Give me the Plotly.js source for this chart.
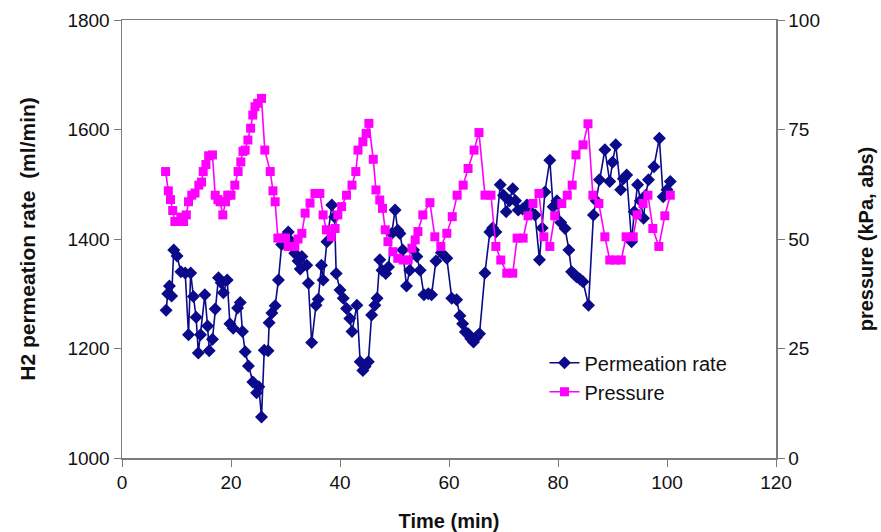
<!DOCTYPE html>
<html>
<head>
<meta charset="utf-8">
<script src="https://cdn.plot.ly/plotly-3.0.1.min.js"></script>
<style>html,body{margin:0;padding:0;background:#fff;}#chart{width:881px;height:532px;}</style>
</head>
<body>
<div id="chart"></div>
<script>
// Permeation rate (ml/min) vs time (min)
const permTime = [8.1,8.4,8.7,9.1,9.5,10.1,10.8,11.6,12.2,12.6,13.1,13.6,14.0,14.4,15.2,15.7,16.0,16.6,17.1,17.7,18.2,18.6,19.3,19.8,20.4,21.2,21.7,22.1,22.6,23.2,24.0,24.7,25.1,25.6,26.1,26.8,27.0,27.5,28.1,28.7,29.3,30.0,30.5,31.1,31.7,32.3,32.7,33.0,33.9,34.2,34.8,35.6,36.0,36.6,36.9,37.6,38.5,39.0,39.3,40.0,40.6,41.2,41.8,42.2,43.1,43.7,44.2,44.6,45.2,45.8,46.4,46.8,47.3,47.7,48.4,48.9,49.5,50.1,50.6,51.0,51.5,52.2,52.8,53.5,54.1,54.7,55.4,56.2,56.8,57.6,58.6,59.6,60.5,61.4,62.0,62.5,63.0,63.5,64.0,64.5,65.0,65.6,66.6,67.5,68.0,68.6,69.4,70.0,70.5,71.1,71.7,72.2,72.7,73.5,74.3,75.0,75.8,76.6,77.1,77.6,78.5,79.1,79.8,80.5,81.3,82.0,82.5,83.0,83.4,84.0,84.6,85.6,86.5,87.0,87.6,88.6,89.5,90.0,90.6,91.5,92.0,92.6,93.5,94.0,94.6,95.1,95.7,96.1,96.6,97.6,98.6,99.3,100.0,100.6];
const permRate = [1270,1300,1314,1296,1380,1369,1340,1338,1225,1338,1295,1257,1192,1225,1298,1241,1196,1217,1272,1329,1320,1302,1325,1245,1237,1274,1284,1231,1194,1168,1139,1119,1130,1075,1197,1196,1247,1265,1278,1325,1390,1405,1413,1395,1374,1360,1345,1368,1352,1319,1211,1279,1290,1352,1325,1395,1462,1440,1337,1307,1292,1273,1255,1231,1279,1176,1160,1167,1176,1261,1279,1292,1362,1343,1337,1349,1410,1453,1416,1410,1380,1314,1343,1380,1368,1343,1298,1300,1298,1360,1375,1365,1292,1289,1260,1245,1230,1227,1218,1212,1220,1227,1338,1413,1420,1413,1499,1480,1450,1470,1492,1470,1453,1455,1462,1450,1444,1362,1420,1486,1544,1459,1470,1430,1419,1380,1340,1335,1331,1327,1322,1279,1444,1470,1508,1563,1505,1540,1572,1490,1510,1517,1395,1450,1499,1470,1438,1480,1508,1532,1584,1477,1490,1505];

// Pressure (kPa, abs) vs time (min)
const presTime = [8.0,8.5,8.9,9.3,9.7,10.2,10.8,11.3,11.8,12.2,12.8,13.4,14.1,14.6,14.9,15.4,15.9,16.6,17.1,17.6,18.0,18.5,19.0,19.4,20.0,20.7,21.3,21.8,22.2,22.6,23.1,23.6,24.0,24.4,24.9,25.6,26.2,27.2,27.7,28.1,28.6,29.3,30.0,30.5,31.1,31.7,32.3,33.0,33.6,34.5,35.4,36.3,36.9,37.5,38.4,39.1,39.6,40.3,41.2,42.2,42.9,43.3,44.2,44.8,45.3,46.1,46.6,47.3,47.8,48.3,48.8,49.7,50.6,51.6,52.5,53.2,53.8,54.3,55.2,56.5,57.4,58.5,59.6,60.6,61.5,62.6,63.5,64.6,65.5,66.6,67.7,68.6,69.5,70.6,71.7,72.5,73.6,74.5,75.4,76.5,77.4,78.5,79.4,80.7,81.7,82.6,83.3,84.6,85.5,86.4,87.5,88.6,89.5,90.5,91.6,92.5,93.8,94.5,95.6,96.5,97.4,98.5,99.6,100.6];
const presVal = [65.4,61.0,59.0,56.5,54.0,54.0,55.0,54.0,55.5,58.5,60.0,60.5,62.3,63.0,65.4,67.0,69.0,69.2,60.0,59.0,58.5,55.5,58.5,60.0,60.0,62.3,65.4,67.6,70.0,70.3,72.6,75.3,78.3,80.2,81.0,82.1,70.3,65.4,61.0,58.5,50.2,50.2,50.2,48.3,48.3,48.3,50.0,51.3,55.9,58.2,60.4,60.4,55.5,52.1,50.5,52.4,55.5,57.4,60.0,62.3,65.4,70.3,72.2,74.1,76.4,68.2,61.2,58.9,57.0,52.1,49.4,47.1,45.6,45.2,45.2,47.9,49.8,51.7,55.5,58.3,50.5,48.3,51.3,55.1,60.0,62.3,66.1,70.3,74.3,60.0,60.0,48.3,45.2,42.2,42.2,50.2,50.2,55.3,58.1,60.4,50.5,48.3,55.3,58.1,60.0,62.3,69.2,71.5,76.3,60.0,58.1,50.5,45.2,45.2,45.2,50.5,50.5,55.5,58.1,60.0,52.4,48.3,55.3,60.0];

const xTicks = [0,20,40,60,80,100,120];
const yLeftTicks = [1000,1200,1400,1600,1800];
const yRightTicks = [0,25,50,75,100];

const FONT = 'Arial, "Liberation Sans", sans-serif';
const axisColor = '#7a7a80';

const traces = [
  {
    x: permTime, y: permRate, name: 'Permeation rate', type: 'scatter', mode: 'lines+markers',
    line: {color: '#0a0a8a', width: 1.6},
    marker: {symbol: 'diamond', size: 10, color: '#0a0a8a'},
    yaxis: 'y'
  },
  {
    x: presTime, y: presVal, name: 'Pressure', type: 'scatter', mode: 'lines+markers',
    line: {color: '#ff00ff', width: 1.6},
    marker: {symbol: 'square', size: 9, color: '#ff00ff'},
    yaxis: 'y2'
  }
];

const layout = {
  width: 881, height: 532,
  margin: {l: 122, r: 105, t: 20, b: 74, pad: 0},
  paper_bgcolor: '#ffffff', plot_bgcolor: '#ffffff',
  font: {family: FONT, size: 19, color: '#111'},
  showlegend: true,
  legend: {x: 0.646, y: 0.262, xanchor: 'left', yanchor: 'top', bgcolor: 'rgba(0,0,0,0)', borderwidth: 0, font: {size: 20, family: FONT, color: '#111'}, tracegroupgap: 0},
  xaxis: {
    range: [0, 120], tickvals: xTicks, ticktext: xTicks.map(String),
    showgrid: false, zeroline: false, showline: true, linecolor: axisColor, linewidth: 1.5, mirror: true,
    ticks: 'outside', ticklen: 7, tickcolor: axisColor, tickfont: {size: 19},
    title: {text: '<b>Time (min)</b>', font: {size: 20}, standoff: 21}
  },
  yaxis: {
    range: [1000, 1800], tickvals: yLeftTicks, ticktext: yLeftTicks.map(String),
    showgrid: false, zeroline: false, showline: true, linecolor: axisColor, linewidth: 1.5,
    ticks: 'outside', ticklen: 7, tickcolor: axisColor, tickfont: {size: 19},
    title: {text: '<b>H2 permeation rate\u00a0 (ml/min)</b>', font: {size: 21}, standoff: 26}
  },
  yaxis2: {
    range: [0, 100], tickvals: yRightTicks, ticktext: yRightTicks.map(String),
    overlaying: 'y', side: 'right',
    showgrid: false, zeroline: false, showline: true, linecolor: axisColor, linewidth: 1.5,
    ticks: 'outside', ticklen: 7, tickcolor: axisColor, tickfont: {size: 19},
    title: {text: '<b>pressure (kPa, abs)</b>', font: {size: 20}, standoff: 40}
  }
};

Plotly.newPlot('chart', traces, layout, {displayModeBar: false, staticPlot: true});
</script>
</body>
</html>
